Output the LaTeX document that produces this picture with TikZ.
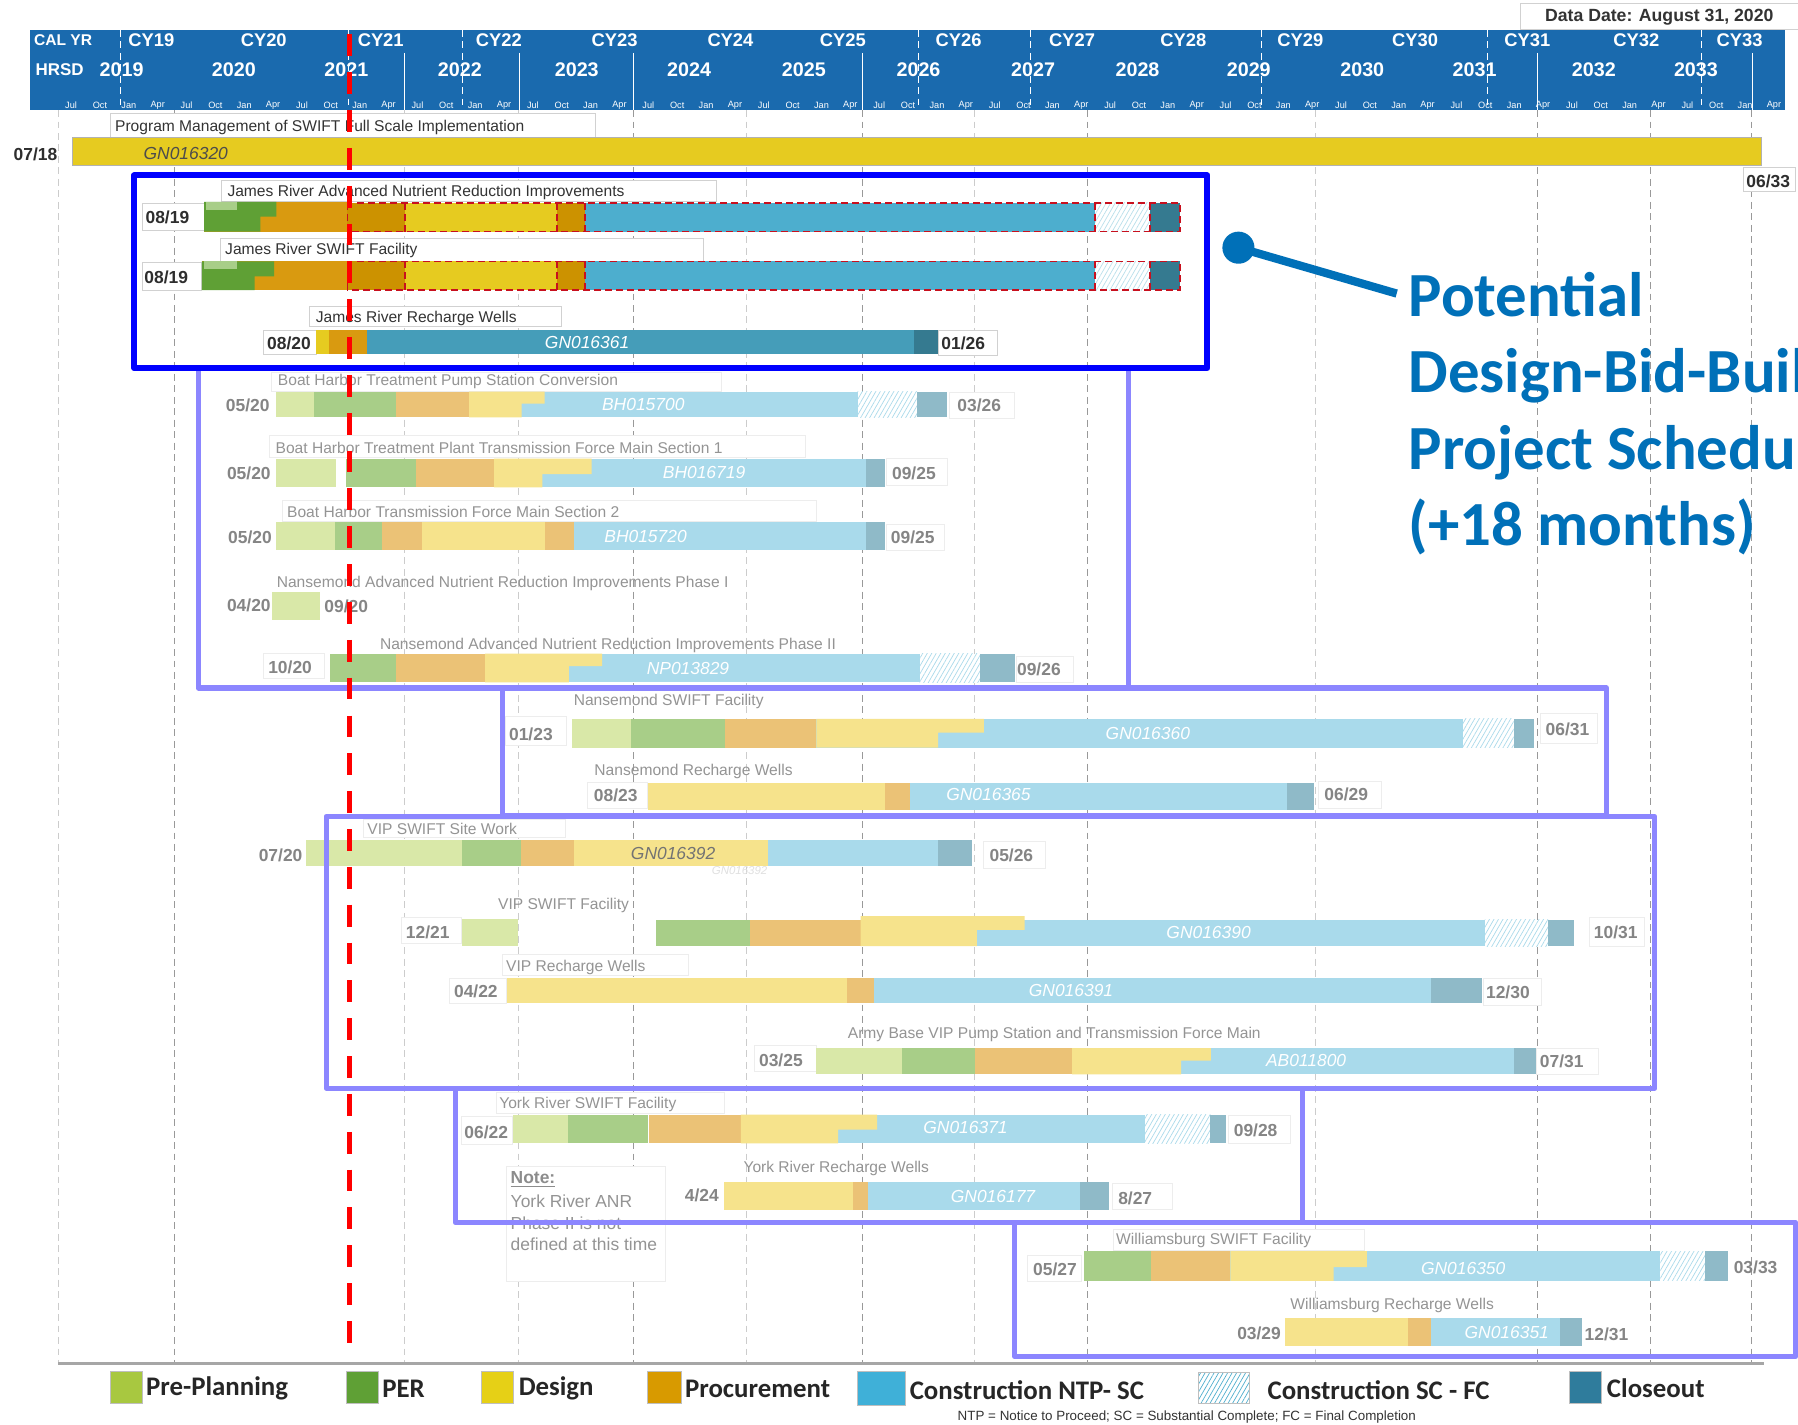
\documentclass[tikz,border=0pt]{standalone}
\usepackage{fontspec}
\setmainfont{Liberation Sans}
\newfontfamily\calfont{Carlito}
\usetikzlibrary{patterns.meta}
\definecolor{hdr}{HTML}{1A6AAE}
\definecolor{yel}{HTML}{E6CB20}
\definecolor{dorg}{HTML}{CC9200}
\definecolor{sgrn}{HTML}{5FA035}
\definecolor{sorg}{HTML}{D99A10}
\definecolor{sblu}{HTML}{4DAECE}
\definecolor{scls}{HTML}{357A90}
\definecolor{fpre}{HTML}{D9E8A8}
\definecolor{fper}{HTML}{A8CE88}
\definecolor{fdes}{HTML}{F6E38C}
\definecolor{fprc}{HTML}{EBC276}
\definecolor{fcon}{HTML}{A9DAEB}
\definecolor{fcls}{HTML}{8FBAC8}
\definecolor{purp}{HTML}{8C86FF}
\definecolor{call}{HTML}{0070B8}
\definecolor{dred}{HTML}{C8101E}
\newcommand{\seg}[5]{\fill[#5] (#1,#3) rectangle (#2,#4);}
% design block with a stepped lower edge: x0 xtop xbot y1 ym y2 colour
\newcommand{\stepd}[7]{\fill[#7] (#1,#4) -- (#2,#4) -- (#2,#5) -- (#3,#5) -- (#3,#6) -- (#1,#6) -- cycle;}
\newcommand{\hch}[6]{\fill[#5] (#1,#3) rectangle (#2,#4);\fill[pattern={Lines[angle=60,distance=1.7pt,line width=0.3pt]},pattern color=#6] (#1,#3) rectangle (#2,#4);}
\tikzset{
  x=0.5pt,y=-0.5pt,
  lb/.style={draw=black!18,line width=0.35pt,fill=white},
  lbf/.style={draw=black!7,line width=0.35pt,fill=white},
  tl/.style={anchor=west,inner sep=0,yshift=-0.4pt,text=black!80,font=\fontsize{6.8}{8}\selectfont},
  tlf/.style={anchor=west,inner sep=0,yshift=-0.4pt,text=black!42,font=\fontsize{6.8}{8}\selectfont},
  dd/.style={inner sep=0,yshift=-0.4pt,text=black!82,font=\bfseries\fontsize{7.6}{9}\selectfont},
  df/.style={inner sep=0,yshift=-0.4pt,text=black!48,font=\bfseries\fontsize{7.6}{9}\selectfont},
  cw/.style={inner sep=0,text=white,font=\itshape\fontsize{7.6}{9}\selectfont},
  hd/.style={inner sep=0,text=white,font=\bfseries\fontsize{8}{10}\selectfont},
  hy/.style={inner sep=0,text=white,font=\bfseries\fontsize{8.6}{10}\selectfont},
  mon/.style={inner sep=0,text=white,font=\fontsize{4}{5}\selectfont},
  grid/.style={black!20,line width=0.4pt,densely dashed},
  griddark/.style={black!40,line width=0.4pt,densely dashed},
  pbox/.style={draw=purp,line width=2.3pt,line join=round},
  rdash/.style={draw=dred,line width=0.7pt,dash pattern=on 3pt off 1.8pt},
  leg/.style={anchor=west,inner sep=0,text=black!85,font=\calfont\bfseries\fontsize{11.7}{14}\selectfont},
  calltext/.style={anchor=base west,inner sep=0,text=call,font=\calfont\bfseries\fontsize{27.4}{32}\selectfont},
  swatch/.style={draw=black!25,line width=0.4pt}
}
\begin{document}
\begin{tikzpicture}
\useasboundingbox (0,0) rectangle (1568,1242.7);
\clip (0,0) rectangle (1568,1242.7);
\fill[white] (0,0) rectangle (1568,1242.7);
% grid
\foreach \g in {51,353,452,651,850,1147} \draw[grid] (\g,96) -- (\g,1188);
\foreach \g in {152,552,752,948,1341,1439,1527} \draw[griddark] (\g,96) -- (\g,1188);
\draw[black!35,line width=1pt] (51,1189) -- (1538,1189);
% data date
\draw[lb] (1326,3) rectangle (1580,26);
\node[inner sep=0,text=black!80,font=\bfseries\fontsize{7.7}{9}\selectfont] (datadate) at (1447,15) {Data Date: August 31, 2020};
% header
\fill[hdr] (26,26) rectangle (1557,96);
\foreach \g in {105,304,403,801,899,1100.5,1297,1484} \draw[white,line width=0.4pt,densely dashed] (\g,26) -- (\g,96);
\foreach \g in {353,453,552,752,1341,1528} \draw[white,line width=0.4pt] (\g,46) -- (\g,96);
\node[hd,font=\bfseries\fontsize{6.8}{9}\selectfont] (calyr) at (55,35) {CAL YR};
\node[hd,font=\bfseries\fontsize{7.4}{9}\selectfont] (hrsd) at (52,61) {HRSD};
\foreach \t/\g in {CY19/132,CY20/230,CY21/332,CY22/435,CY23/536,CY24/637,CY25/735,CY26/836,CY27/935,CY28/1032,CY29/1134,CY30/1234,CY31/1332,CY32/1427,CY33/1517}
  \node[hd] (h\t) at (\g,35) {\t};
\foreach \t/\g in {2019/106,2020/204,2021/302,2022/401,2023/503,2024/601,2025/701,2026/801,2027/901,2028/992,2029/1089,2030/1188,2031/1286,2032/1390,2033/1479}
  \node[hy] (y\t) at (\g,61) {\t};
\foreach \i in {0,...,59}{
  \pgfmathsetmacro\mx{62+25.17*\i}
  \pgfmathtruncatemacro\k{mod(\i,4)}
  \node[mon] (m\i) at (\mx,92) {\ifcase\k Jul\or Oct\or Jan\or Apr\fi};
}
% program management
\draw[lb] (96,99) rectangle (519,120);
\node[tl] (pmt) at (100,110) {Program Management of SWIFT Full Scale Implementation};
\seg{63}{1536}{120}{144.5}{yel}
\draw[black!30,line width=0.3pt] (63,120) rectangle (1536,144.5);
\node[cw,text=black!70] (pmc) at (162,134) {GN016320};
\node[dd] (pms) at (31,134) {07/18};
\draw[lb] (1520,146) rectangle (1566,167);
\node[dd] (pme) at (1542,157) {06/33};
% James River ANR
\draw[lb] (193,157) rectangle (625,176);
\node[tl] (j1t) at (198,167) {James River Advanced Nutrient Reduction Improvements};
\draw[lb] (124,177) rectangle (178,201);
\node[dd] (j1s) at (146,189) {08/19};
\seg{178}{303}{176}{202}{sorg}
\stepd{178}{241}{227}{176}{189}{202}{sgrn}
\seg{180}{207}{176}{183}{fper}
\seg{303}{353}{177}{202}{dorg}
\seg{353}{486}{177}{202}{yel}
\seg{486}{510}{177}{202}{dorg}
\seg{510}{955}{177}{202}{sblu}
\hch{955}{1003}{177}{202}{white}{sblu!40}
\seg{1003}{1029}{177}{202}{scls}
\draw[rdash] (303,177) rectangle (1029,202);
\draw[rdash] (353,177) -- (353,202) (486,177) -- (486,202) (510,177) -- (510,202) (955,177) -- (955,202) (1003,177) -- (1003,202);
% James River SWIFT
\draw[lb] (192,208) rectangle (613,228);
\node[tl] (j2t) at (196,218) {James River SWIFT Facility};
\draw[lb] (124,229) rectangle (176,253);
\node[dd] (j2s) at (145,241) {08/19};
\seg{176}{303}{228}{253}{sorg}
\stepd{176}{239}{222}{228}{241}{253}{sgrn}
\seg{178}{207}{228}{235}{fper}
\seg{303}{353}{228}{253}{dorg}
\seg{353}{486}{228}{253}{yel}
\seg{486}{510}{228}{253}{dorg}
\seg{510}{955}{228}{253}{sblu}
\hch{955}{1003}{228}{253}{white}{sblu!40}
\seg{1003}{1029}{228}{253}{scls}
\draw[rdash] (303,228) rectangle (1029,253);
\draw[rdash] (353,228) -- (353,253) (486,228) -- (486,253) (510,228) -- (510,253) (955,228) -- (955,253) (1003,228) -- (1003,253);
% James River Recharge
\draw[lb] (270,267) rectangle (490,285);
\node[tl] (j3t) at (275,277) {James River Recharge Wells};
\draw[lb] (230,288) rectangle (276,309);
\node[dd] (j3s) at (252,299) {08/20};
\seg{276}{287}{288}{309}{yel}
\seg{287}{320}{288}{309}{sorg}
\seg{320}{797}{288}{309}{sblu!90!black}
\seg{797}{818}{288}{309}{scls}
\node[cw] (j3c) at (512,299) {GN016361};
\draw[lb] (818,288) rectangle (870,310);
\node[dd] (j3e) at (840,299) {01/26};
% Boat Harbor TPS
\draw[lbf] (237,324.5) rectangle (629,341.6);
\node[tlf] (b1t) at (242,332) {Boat Harbor Treatment Pump Station Conversion};
\node[df] (b1s) at (216,353) {05/20};
\seg{241}{274}{341.6}{364}{fpre}
\seg{274}{345}{341.6}{364}{fper}
\seg{345}{409}{341.6}{364}{fprc}
\seg{409}{748}{341.6}{364}{fcon}
\stepd{409}{475}{455}{341.6}{352}{364}{fdes}
\hch{748}{800}{341.6}{364}{white}{fcon}
\seg{800}{826}{341.6}{364}{fcls}
\node[cw] (b1c) at (561,353) {BH015700};
\draw[lbf] (828,342) rectangle (885,365);
\node[df] (b1e) at (854,353) {03/26};
% Boat Harbor TP FM 1
\draw[lbf] (235,380) rectangle (702,399);
\node[tlf] (b2t) at (240,390) {Boat Harbor Treatment Plant Transmission Force Main Section 1};
\node[df] (b2s) at (217,412) {05/20};
\seg{241}{293}{400}{425}{fpre}
\seg{302}{363}{400}{425}{fper}
\seg{363}{431}{400}{425}{fprc}
\seg{431}{755}{400}{425}{fcon}
\stepd{431}{516}{473}{400}{413.5}{425}{fdes}
\seg{755}{772}{400}{425}{fcls}
\node[cw] (b2c) at (614,412) {BH016719};
\draw[lbf] (773,400) rectangle (826,423);
\node[df] (b2e) at (797,412) {09/25};
% Boat Harbor FM 2
\draw[lbf] (246,436) rectangle (712,455);
\node[tlf] (b3t) at (250,446) {Boat Harbor Transmission Force Main Section 2};
\node[df] (b3s) at (218,468) {05/20};
\seg{241}{292}{455}{480}{fpre}
\seg{292}{333}{455}{480}{fper}
\seg{333}{368}{455}{480}{fprc}
\seg{368}{475}{455}{480}{fdes}
\seg{475}{501}{455}{480}{fprc}
\seg{501}{755}{455}{480}{fcon}
\seg{755}{772}{455}{480}{fcls}
\node[cw] (b3c) at (563,468) {BH015720};
\draw[lbf] (773,457) rectangle (824,480);
\node[df] (b3e) at (796,468) {09/25};
% Nansemond ANR I
\node[tlf] (n1t) at (241,508) {Nansemond Advanced Nutrient Reduction Improvements Phase I};
\node[df] (n1s) at (217,527) {04/20};
\seg{237}{279}{516}{541}{fpre}
\node[df] (n1e) at (302,528) {09/20};
% Nansemond ANR II
\node[tlf] (n2t) at (331,562) {Nansemond Advanced Nutrient Reduction Improvements Phase II};
\draw[lbf] (230,570) rectangle (283,592);
\node[df] (n2s) at (253,581) {10/20};
\seg{288}{345}{570}{595}{fper}
\seg{345}{423}{570}{595}{fprc}
\seg{423}{802}{570}{595}{fcon}
\stepd{423}{525}{496}{570}{581}{595}{fdes}
\hch{802}{855}{570}{595}{white}{fcon}
\seg{855}{885}{570}{595}{fcls}
\node[cw] (n2c) at (600,583) {NP013829};
\draw[lbf] (886,572) rectangle (936,595);
\node[df] (n2e) at (906,583) {09/26};
% Nansemond SWIFT
\node[tlf] (n3t) at (500,611) {Nansemond SWIFT Facility};
\draw[lbf] (441,625) rectangle (494,650);
\node[df] (n3s) at (463,640) {01/23};
\seg{499}{550}{627}{652}{fpre}
\seg{550}{632}{627}{652}{fper}
\seg{632}{712}{627}{652}{fprc}
\seg{712}{1276}{627}{652}{fcon}
\stepd{712}{858}{818}{627}{639}{652}{fdes}
\hch{1276}{1320}{627}{652}{white}{fcon}
\seg{1320}{1338}{627}{652}{fcls}
\node[cw] (n3c) at (1001,640) {GN016360};
\draw[lbf] (1343,622) rectangle (1393,648);
\node[df] (n3e) at (1367,635) {06/31};
% Nansemond Recharge
\node[tlf] (n4t) at (518,672) {Nansemond Recharge Wells};
\draw[lbf] (512,682) rectangle (565,705);
\node[df] (n4s) at (537,693) {08/23};
\seg{565}{772}{683}{706}{fdes}
\seg{772}{794}{683}{706}{fprc}
\seg{794}{1122}{683}{706}{fcon}
\seg{1122}{1146}{683}{706}{fcls}
\node[cw] (n4c) at (862,693) {GN016365};
\draw[lbf] (1150,681) rectangle (1205,705);
\node[df] (n4e) at (1174,692) {06/29};
% VIP Site Work
\draw[lbf] (317,715) rectangle (493,730);
\node[tlf] (v1t) at (320,722) {VIP SWIFT Site Work};
\node[df] (v1s) at (244.7,745) {07/20};
\seg{267}{402.6}{732.6}{755}{fpre}
\seg{402.6}{454}{732.6}{755}{fper}
\seg{454}{500.5}{732.6}{755}{fprc}
\seg{500.5}{669.6}{732.6}{755}{fdes}
\seg{669.6}{818}{732.6}{755}{fcon}
\seg{818}{847.6}{732.6}{755}{fcls}
\node[cw,text=black!55] (v1c) at (587,744) {GN016392};
\node[cw,text=black!12,font=\itshape\fontsize{5}{6}\selectfont] (v1g) at (645,759) {GN016392};
\draw[lbf] (858,734) rectangle (912,757);
\node[df] (v1e) at (882,745) {05/26};
% VIP Facility
\node[tlf] (v2t) at (434,789) {VIP SWIFT Facility};
\draw[lbf] (350,800) rectangle (402.6,823);
\node[df] (v2s) at (373,812) {12/21};
\seg{402.6}{451.6}{801}{825}{fpre}
\seg{572}{654}{802}{825}{fper}
\seg{654}{750.6}{802}{825}{fprc}
\seg{750.6}{1295}{802}{825}{fcon}
\stepd{750.6}{893.5}{852}{799}{811}{825}{fdes}
\hch{1295}{1350}{802}{825}{white}{fcon}
\seg{1350}{1373}{802}{825}{fcls}
\node[cw] (v2c) at (1054,813) {GN016390};
\draw[lbf] (1386,800) rectangle (1434,825);
\node[df] (v2e) at (1409,812) {10/31};
% VIP Recharge
\draw[lbf] (438,832) rectangle (600.6,851);
\node[tlf] (v3t) at (441,843) {VIP Recharge Wells};
\draw[lbf] (392,853) rectangle (442,875);
\node[df] (v3s) at (415,864) {04/22};
\seg{442}{739}{853}{875}{fdes}
\seg{739}{762}{853}{875}{fprc}
\seg{762}{1248}{853}{875}{fcon}
\seg{1248}{1292}{853}{875}{fcls}
\node[cw] (v3c) at (934,864) {GN016391};
\draw[lbf] (1294,853) rectangle (1344,877);
\node[df] (v3e) at (1315,865) {12/30};
% Army Base
\node[tlf] (a1t) at (739,901) {Army Base VIP Pump Station and Transmission Force Main};
\draw[lbf] (657.6,912) rectangle (712,934.6);
\node[df] (a1s) at (681,924) {03/25};
\seg{712}{787}{914}{937}{fpre}
\seg{787}{850}{914}{937}{fper}
\seg{850}{935}{914}{937}{fprc}
\seg{935}{1320}{914}{937}{fcon}
\stepd{935}{1056}{1030}{914}{925}{937}{fdes}
\seg{1320}{1340}{914}{937}{fcls}
\node[cw] (a1c) at (1139,925) {AB011800};
\draw[lbf] (1340,914) rectangle (1394,937);
\node[df] (a1e) at (1362,925) {07/31};
% York River SWIFT
\draw[lbf] (432.6,953) rectangle (631.5,971);
\node[tlf] (y1t) at (435,962) {York River SWIFT Facility};
\draw[lbf] (402,974) rectangle (447,997.6);
\node[df] (y1s) at (424,987) {06/22};
\seg{447}{495}{972}{997}{fpre}
\seg{495}{565}{972}{997}{fper}
\seg{566}{646}{972}{997}{fprc}
\seg{646}{998.6}{972}{997}{fcon}
\stepd{646}{765}{731}{972}{985}{997}{fdes}
\hch{998.6}{1055.6}{972}{997}{white}{fcon}
\seg{1055.6}{1069}{972}{997}{fcls}
\node[cw] (y1c) at (842,983) {GN016371};
\draw[lbf] (1071,973) rectangle (1125,997);
\node[df] (y1e) at (1095,985) {09/28};
% Note
\draw[lbf] (441.5,1017) rectangle (580,1117.7);
\node[inner sep=0,anchor=west,text=black!45,font=\bfseries\fontsize{7.6}{9}\selectfont] (nt0) at (445,1029) {\underline{Note:}};
\node[tlf,font=\fontsize{7.6}{9}\selectfont] (nt1) at (445,1047) {York River ANR};
\node[tlf,font=\fontsize{7.6}{9}\selectfont] (nt2) at (445,1066) {Phase II is not};
\node[tlf,font=\fontsize{7.6}{9}\selectfont] (nt3) at (445,1084) {defined at this time};
% York Recharge
\node[tlf] (y2t) at (648,1018) {York River Recharge Wells};
\node[df] (y2s) at (612,1042) {4/24};
\seg{631.5}{744}{1030.5}{1055}{fdes}
\seg{744}{757}{1030.5}{1055}{fprc}
\seg{757}{942}{1030.5}{1055}{fcon}
\seg{942}{967.5}{1030.5}{1055}{fcls}
\node[cw] (y2c) at (866,1043) {GN016177};
\draw[lbf] (970,1032) rectangle (1022,1055);
\node[df] (y2e) at (990,1044) {8/27};
% Williamsburg SWIFT
\draw[lbf] (971,1072) rectangle (1190,1090);
\node[tlf] (w1t) at (973,1081) {Williamsburg SWIFT Facility};
\draw[lbf] (896,1095) rectangle (943,1117.7);
\node[df] (w1s) at (920,1106) {05/27};
\seg{945.6}{1003.5}{1091}{1117}{fper}
\seg{1003.5}{1073}{1091}{1117}{fprc}
\seg{1073}{1448}{1091}{1117}{fcon}
\stepd{1073}{1192}{1163}{1091}{1105}{1117}{fdes}
\hch{1448}{1487}{1091}{1117}{white}{fcon}
\seg{1487}{1507}{1091}{1117}{fcls}
\node[cw] (w1c) at (1276,1106) {GN016350};
\node[df] (w1e) at (1531,1104) {03/33};
% Williamsburg Recharge
\node[tlf] (w2t) at (1125,1138) {Williamsburg Recharge Wells};
\node[df] (w2s) at (1098,1162) {03/29};
\seg{1121}{1228}{1149}{1174}{fdes}
\seg{1228}{1248}{1149}{1174}{fprc}
\seg{1248}{1360}{1149}{1174}{fcon}
\seg{1360}{1380}{1149}{1174}{fcls}
\node[cw] (w2c) at (1314,1162) {GN016351};
\node[df] (w2e) at (1401,1163) {12/31};
% phase frames
\draw[pbox] (173,321) rectangle (984,600);
\draw[pbox] (438,600) rectangle (1401,711);
\draw[pbox] (284.5,712) rectangle (1443,949);
\draw[pbox] (397,949) rectangle (1136,1066);
\draw[pbox] (885,1066) rectangle (1566,1183);
\draw[draw=blue,line width=2.6pt,line join=round] (117,153) rectangle (1053,321);
% data date line
\draw[red,line width=2.4pt,dash pattern=on 9.5pt off 7pt] (305,30) -- (305,1176);
% callout
\node[circle,fill=call,inner sep=0,minimum size=14pt] (ball) at (1080,216) {};
\coordinate (leaderend) at (1218,256);
\draw[call,line width=3.6pt] (ball.center) -- (leaderend);
\node[calltext] (c1) at (1228,276) {Potential};
\node[calltext] (c2) at (1228,342.5) {Design-Bid-Build};
\node[calltext] (c3) at (1228,409) {Project Schedule};
\node[calltext] (c4) at (1228,475.5) {(+18 months)};
% legend
\draw[swatch,fill={rgb,255:red,168;green,200;blue,64}] (96,1196) rectangle (124,1224);
\node[leg] (l1) at (127,1211) {Pre-Planning};
\draw[swatch,fill=sgrn] (302,1196) rectangle (330,1224);
\node[leg] (l2) at (333,1211) {PER};
\draw[swatch,fill={rgb,255:red,230;green,208;blue,22}] (420,1196) rectangle (448,1224);
\node[leg] (l3) at (452,1211) {Design};
\draw[swatch,fill={rgb,255:red,216;green,154;blue,0}] (565,1196) rectangle (594,1224);
\node[leg] (l4) at (597,1211) {Procurement};
\draw[swatch,fill={rgb,255:red,63;green,176;blue,216}] (748,1196) rectangle (790,1226);
\node[leg] (l5) at (793,1212) {Construction NTP- SC};
\hch{1045}{1090}{1197}{1224}{white}{sblu}
\draw[swatch] (1045,1197) rectangle (1090,1224);
\node[leg] (l6) at (1105,1212) {Construction SC - FC};
\draw[swatch,fill={rgb,255:red,47;green,124;blue,156}] (1369,1196) rectangle (1397,1224);
\node[leg] (l7) at (1401,1211) {Closeout};
\node[inner sep=0,text=black!80,font=\fontsize{5.84}{7}\selectfont] (lnote) at (1035,1236) {NTP = Notice to Proceed; SC = Substantial Complete; FC = Final Completion};
\end{tikzpicture}
\end{document}
